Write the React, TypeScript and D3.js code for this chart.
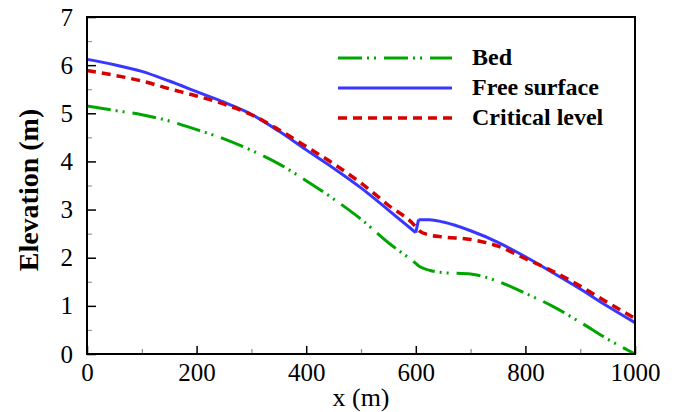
import React, { useRef, useEffect } from 'react';
import * as d3 from 'd3';

// distance along channel (m)
const distance = [0, 50, 100, 150, 200, 250, 300, 350, 400, 450, 500, 550, 600, 605, 625, 650, 700, 750, 800, 850, 900, 950, 1000];
const bed = [5.15, 5.06, 4.97, 4.84, 4.66, 4.47, 4.23, 3.95, 3.6, 3.22, 2.8, 2.31, 1.88, 1.83, 1.74, 1.69, 1.66, 1.51, 1.26, 0.99, 0.66, 0.31, 0.0];
const freeSurface = [6.12, 6.01, 5.87, 5.67, 5.45, 5.23, 4.98, 4.63, 4.24, 3.86, 3.45, 2.99, 2.52, 2.79, 2.79, 2.74, 2.56, 2.32, 2.02, 1.69, 1.35, 0.99, 0.65];
const critical = [5.89, 5.79, 5.67, 5.51, 5.36, 5.19, 4.97, 4.66, 4.31, 3.95, 3.55, 3.09, 2.64, 2.57, 2.47, 2.43, 2.38, 2.24, 1.98, 1.72, 1.41, 1.07, 0.74];

const xTicks = [0, 200, 400, 600, 800, 1000];
const yTicks = [0, 1, 2, 3, 4, 5, 6, 7];

// index of the hydraulic jump (free surface is broken there)
const jumpIndex = 12;

const series = [
  { name: 'Bed', values: bed, color: '#00a500', width: 3, dash: '24,5,2,5,2,8', split: false },
  { name: 'Free surface', values: freeSurface, color: '#3737ff', width: 3, dash: null, split: true },
  { name: 'Critical level', values: critical, color: '#d60000', width: 3.5, dash: '9,6', split: false },
];

const W = 684;
const H = 412;
const margin = { left: 87, right: 49, top: 17, bottom: 58 };
const serif = "'Liberation Serif', 'Times New Roman', serif";

const App = () => {
  const svgRef = useRef<SVGSVGElement>(null);

  useEffect(() => {
    const svg = d3.select(svgRef.current);
    svg.selectAll('*').remove();
    const iw = W - margin.left - margin.right;
    const ih = H - margin.top - margin.bottom;

    const x = d3.scaleLinear().domain([0, 1000]).range([margin.left, margin.left + iw]);
    const y = d3.scaleLinear().domain([0, 7]).range([margin.top + ih, margin.top]);

    // minor ticks
    svg
      .append('g')
      .attr('transform', `translate(0,${margin.top + ih})`)
      .call(d3.axisBottom(x).tickValues([100, 300, 500, 700, 900]).tickSizeInner(-5).tickFormat(() => ''))
      .call((g) => g.select('.domain').remove())
      .call((g) => g.selectAll('line').attr('stroke', '#888').attr('stroke-width', 1.2));
    svg
      .append('g')
      .attr('transform', `translate(${margin.left},0)`)
      .call(d3.axisLeft(y).tickValues([0.5, 1.5, 2.5, 3.5, 4.5, 5.5, 6.5]).tickSizeInner(-5).tickFormat(() => ''))
      .call((g) => g.select('.domain').remove())
      .call((g) => g.selectAll('line').attr('stroke', '#999').attr('stroke-width', 1.2));

    // major ticks
    const xAxis = svg
      .append('g')
      .attr('transform', `translate(0,${margin.top + ih})`)
      .call(d3.axisBottom(x).tickValues(xTicks).tickSizeInner(-8).tickPadding(9).tickFormat(d3.format('d')));
    const yAxis = svg
      .append('g')
      .attr('transform', `translate(${margin.left},0)`)
      .call(d3.axisLeft(y).tickValues(yTicks).tickSizeInner(-9).tickPadding(14).tickFormat(d3.format('d')));
    [xAxis, yAxis].forEach((g) => {
      g.select('.domain').remove();
      g.selectAll('line').attr('stroke', '#000').attr('stroke-width', 1.5);
      g.selectAll('text').attr('font-family', serif).attr('font-size', 25).attr('fill', '#000');
    });

    // curves
    const line = d3
      .line<[number, number]>()
      .x((d) => x(d[0]))
      .y((d) => y(d[1]))
      .curve(d3.curveMonotoneX);
    const straight = d3
      .line<[number, number]>()
      .x((d) => x(d[0]))
      .y((d) => y(d[1]));

    const plot = svg.append('g');
    series.forEach((s) => {
      const pts = s.values.map((v, i) => [distance[i], v] as [number, number]);
      const d = s.split
        ? line(pts.slice(0, jumpIndex + 1)) +
          straight(pts.slice(jumpIndex, jumpIndex + 2)) +
          line(pts.slice(jumpIndex + 1))
        : line(pts);
      plot
        .append('path')
        .attr('d', d)
        .attr('fill', 'none')
        .attr('stroke', s.color)
        .attr('stroke-width', s.width)
        .attr('stroke-linejoin', 'round')
        .attr('stroke-dasharray', s.dash);
    });

    // frame
    svg
      .append('rect')
      .attr('x', margin.left)
      .attr('y', margin.top)
      .attr('width', iw)
      .attr('height', ih)
      .attr('fill', 'none')
      .attr('stroke', '#000')
      .attr('stroke-width', 2);

    // legend
    const legend = svg.append('g');
    series.forEach((s, i) => {
      const ly = 58 + i * 30;
      legend
        .append('line')
        .attr('x1', 338)
        .attr('x2', 452)
        .attr('y1', ly)
        .attr('y2', ly)
        .attr('stroke', s.color)
        .attr('stroke-width', s.width)
        .attr('stroke-dasharray', s.dash);
      legend
        .append('text')
        .attr('x', 472)
        .attr('y', ly + 7)
        .attr('font-family', serif)
        .attr('font-weight', 'bold')
        .attr('font-size', 24)
        .text(s.name);
    });

    // axis titles
    svg
      .append('text')
      .attr('x', margin.left + iw / 2)
      .attr('y', 406)
      .attr('text-anchor', 'middle')
      .attr('font-family', serif)
      .attr('font-size', 26)
      .text('x (m)');
    svg
      .append('text')
      .attr('transform', 'translate(38,190) rotate(-90)')
      .attr('text-anchor', 'middle')
      .attr('font-family', serif)
      .attr('font-weight', 'bold')
      .attr('font-size', 28)
      .text('Elevation (m)');
  }, []);

  return (
    <svg
      ref={svgRef}
      width={W}
      height={H}
      style={{ position: 'absolute', left: 0, top: 0, background: '#fff' }}
    />
  );
};

export default App;
